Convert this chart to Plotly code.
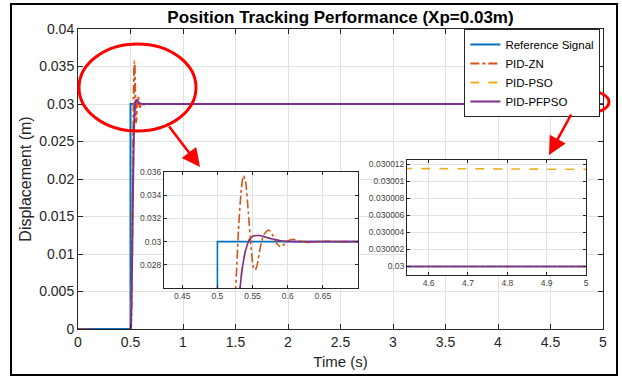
import plotly.graph_objects as go

# ---------------- data ----------------
t_ref = [0, 0.5, 0.5, 5]
y_ref = [0, 0, 0.03, 0.03]

t_zn = [0, 0.5, 0.505, 0.51, 0.515, 0.52, 0.525, 0.53, 0.534, 0.537, 0.540, 0.544,
        0.548, 0.551, 0.554, 0.557, 0.561, 0.566, 0.573, 0.579, 0.585, 0.590, 0.596,
        0.602, 0.608, 0.615, 0.622, 0.63, 0.64, 0.65, 0.66, 0.67, 0.68, 0.7, 1.0, 5.0]
y_zn = [0, 0, 0.0005, 0.003, 0.009, 0.017, 0.0245, 0.031, 0.0345, 0.0357, 0.0352, 0.0325,
        0.0295, 0.0278, 0.02755, 0.0281, 0.0295, 0.0306, 0.0310, 0.0305, 0.0298, 0.02956, 0.0298,
        0.0301, 0.0302, 0.03005, 0.02995, 0.02993, 0.02998, 0.03003, 0.03002, 0.02999, 0.0300, 0.03, 0.03, 0.03]

t_pso = [0, 0.5, 0.505, 0.51, 0.515, 0.52, 0.525, 0.53, 0.535, 0.54, 0.545, 0.55, 0.556,
         0.562, 0.57, 0.58, 0.59, 0.6, 0.62, 0.7, 4.55, 5.0]
y_pso = [0, 0, 0.001, 0.004, 0.0092, 0.0152, 0.0202, 0.0247, 0.0277, 0.0293, 0.0302, 0.03048, 0.03055,
         0.0305, 0.03036, 0.03022, 0.0301, 0.03004, 0.030015, 0.030012, 0.0300115, 0.0300114]

t_pf = [0, 0.5, 0.505, 0.51, 0.515, 0.52, 0.525, 0.53, 0.535, 0.54, 0.545, 0.55, 0.556,
        0.562, 0.57, 0.58, 0.59, 0.6, 0.62, 1.0, 5.0]
y_pf = [0, 0, 0.001, 0.004, 0.009, 0.015, 0.020, 0.0245, 0.0275, 0.0292, 0.0301, 0.03045, 0.03053,
        0.0305, 0.03035, 0.0302, 0.03008, 0.03002, 0.03, 0.03, 0.03]

x_ticks = [0, 0.5, 1, 1.5, 2, 2.5, 3, 3.5, 4, 4.5, 5]
x_ticktext = ['0', '0.5', '1', '1.5', '2', '2.5', '3', '3.5', '4', '4.5', '5']
y_ticks = [0, 0.005, 0.01, 0.015, 0.02, 0.025, 0.03, 0.035, 0.04]
y_ticktext = ['0', '0.005', '0.01', '0.015', '0.02', '0.025', '0.03', '0.035', '0.04']

in1_xticks = [0.45, 0.5, 0.55, 0.6, 0.65]
in1_xtext = ['0.45', '0.5', '0.55', '0.6', '0.65']
in1_yticks = [0.028, 0.03, 0.032, 0.034, 0.036]
in1_ytext = ['0.028', '0.03', '0.032', '0.034', '0.036']

in2_xticks = [4.6, 4.7, 4.8, 4.9, 5.0]
in2_xtext = ['4.6', '4.7', '4.8', '4.9', '5']
in2_yticks = [0.03, 0.030002, 0.030004, 0.030006, 0.030008, 0.03001, 0.030012]
in2_ytext = ['0.03', '0.030002', '0.030004', '0.030006', '0.030008', '0.03001', '0.030012']

names = ['Reference Signal', 'PID-ZN', 'PID-PSO', 'PID-PFPSO']
colors = ['#0072BD', '#D95319', '#EDB120', '#7E2F8E']

# ---------------- figure ----------------
fig = go.Figure()
series = [(t_ref, y_ref, 'solid', 'linear'),
          (t_zn, y_zn, 'dashdot', 'spline'),
          (t_pso, y_pso, 'dash', 'spline'),
          (t_pf, y_pf, 'solid', 'spline')]

for (xa, ya, w, leg) in [('x', 'y', 2, True), ('x2', 'y2', 1.6, False), ('x3', 'y3', 1.6, False)]:
    for i, (tt, yy, dash, shape) in enumerate(series):
        fig.add_trace(go.Scatter(
            x=tt, y=yy, mode='lines', name=names[i], showlegend=leg,
            line=dict(color=colors[i], width=w, dash=dash, shape=shape, smoothing=0.6),
            xaxis=xa, yaxis=ya, hoverinfo='skip'))

axis_common = dict(showgrid=True, gridcolor='#e2e2e2', gridwidth=1, showline=True,
                   linecolor='#262626', linewidth=1, mirror='ticks', ticks='inside',
                   tickcolor='#262626', zeroline=False, automargin=False)

fig.update_layout(
    width=622, height=377,
    margin=dict(l=78, r=19, t=29, b=48),
    plot_bgcolor='white', paper_bgcolor='white',
    font=dict(family='Liberation Sans, Arial, sans-serif', color='#262626'),
    title=dict(text='<b>Position Tracking Performance (Xp=0.03m)</b>',
               x=0.5, xref='paper', xanchor='center',
               y=1 - 17 / 377, yref='container', yanchor='middle',
               font=dict(size=17, color='#000000')),
    showlegend=True,
    legend=dict(x=0.995, xanchor='right', y=1.0, yanchor='top',
                bgcolor='white', bordercolor='#262626', borderwidth=1,
                font=dict(size=11.5, color='#000000'), itemwidth=30,
                tracegroupgap=0),
    xaxis=dict(range=[0, 5], tickvals=x_ticks, ticktext=x_ticktext, ticklen=5,
               tickfont=dict(size=14), title=dict(text='Time (s)', font=dict(size=15), standoff=7),
               **axis_common),
    yaxis=dict(range=[0, 0.04], tickvals=y_ticks, ticktext=y_ticktext, ticklen=5,
               tickfont=dict(size=14), title=dict(text='Displacement (m)', font=dict(size=16), standoff=3),
               **axis_common),
    xaxis2=dict(domain=[0.1638, 0.5333], anchor='y2', range=[0.424, 0.70],
                tickvals=in1_xticks, ticktext=in1_xtext, ticklen=3,
                tickfont=dict(size=8.5, color='#444444'), **axis_common),
    yaxis2=dict(domain=[0.1367, 0.5233], anchor='x2', range=[0.026, 0.036],
                tickvals=in1_yticks, ticktext=in1_ytext, ticklen=3,
                tickfont=dict(size=8.5, color='#444444'), **axis_common),
    xaxis3=dict(domain=[0.6267, 0.9676], anchor='y3', range=[4.545, 5.0],
                tickvals=in2_xticks, ticktext=in2_xtext, ticklen=3,
                tickfont=dict(size=8.5, color='#444444'), **axis_common),
    yaxis3=dict(domain=[0.18, 0.5633], anchor='x3', range=[0.029999, 0.0300125],
                tickvals=in2_yticks, ticktext=in2_ytext, ticklen=3,
                tickfont=dict(size=8.5, color='#444444'), **axis_common),
)

# outer frame
fig.add_shape(type='rect', xref='paper', yref='paper',
              x0=-0.1276, x1=1.0267, y0=-0.1533, y1=1.0833,
              line=dict(color='#000000', width=2), layer='above')

# red ellipses
fig.add_shape(type='circle', xref='paper', yref='paper',
              x0=0.0019, x1=0.2248, y0=0.66, y1=0.95,
              line=dict(color='#ff0000', width=3), layer='above')
fig.add_shape(type='circle', xref='paper', yref='paper',
              x0=0.916, x1=1.0114, y0=0.7167, y1=0.7967,
              line=dict(color='#ff0000', width=3), layer='above')

# red arrows
fig.add_annotation(x=0.2324, y=0.54, xref='paper', yref='paper', text='',
                   showarrow=True, ax=-32, ay=-42, arrowhead=2, arrowsize=1.4,
                   arrowwidth=2.6, arrowcolor='#ff0000')
fig.add_annotation(x=0.8971, y=0.58, xref='paper', yref='paper', text='',
                   showarrow=True, ax=23, ay=-42, arrowhead=2, arrowsize=1.4,
                   arrowwidth=2.6, arrowcolor='#ff0000')

fig.write_html('out.html', config={'displayModeBar': False},
               post_script="document.body.style.margin='0';document.body.style.overflow='hidden';")
